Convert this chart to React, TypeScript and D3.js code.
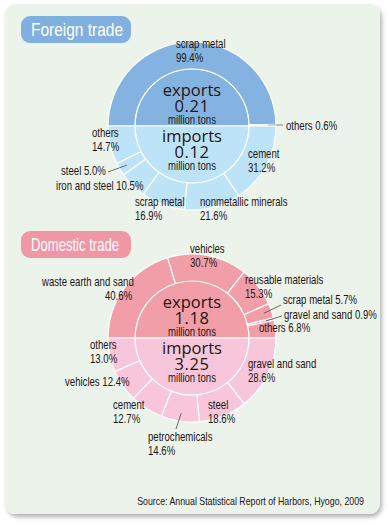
import { useMemo } from 'react'
import * as d3 from 'd3'

// ---- data ----
const foreignExportNames = ['scrap metal', 'others']
const foreignExportShares = [99.4, 0.6]
const foreignImportNames = ['cement', 'nonmetallic minerals', 'scrap metal', 'iron and steel', 'steel', 'others']
const foreignImportShares = [31.2, 21.6, 16.9, 10.5, 5.0, 14.7]
const foreignTotals = ['0.21', '0.12']

const domesticExportNames = ['waste earth and sand', 'vehicles', 'reusable materials', 'scrap metal', 'gravel and sand', 'others']
const domesticExportShares = [40.6, 30.7, 15.3, 5.7, 0.9, 6.8]
const domesticImportNames = ['gravel and sand', 'steel', 'petrochemicals', 'cement', 'vehicles', 'others']
const domesticImportShares = [28.6, 18.6, 14.6, 12.7, 12.4, 13.0]
const domesticTotals = ['1.18', '3.25']

const sourceNote = 'Source: Annual Statistical Report of Harbors, Hyogo, 2009'

// ---- label layout (text anchor points, not marks) ----
type Lbl = { x: number; y: number; inline?: boolean; pctX?: number; end?: [number, number]; light?: boolean }
const foreignExportLabels: Lbl[] = [
  { x: 176, y: 48 },
  { x: 286, y: 130, inline: true, end: [283, 125], light: true },
]
const foreignImportLabels: Lbl[] = [
  { x: 248, y: 158 },
  { x: 200, y: 206 },
  { x: 135, y: 206 },
  { x: 56, y: 190, inline: true },
  { x: 61, y: 175, inline: true, end: [108, 172] },
  { x: 92, y: 137 },
]
const domesticExportLabels: Lbl[] = [
  { x: 42, y: 286, pctX: 105 },
  { x: 190, y: 253 },
  { x: 245, y: 284 },
  { x: 283, y: 304, inline: true, end: [281, 305] },
  { x: 284, y: 319, inline: true, end: [282, 316] },
  { x: 259, y: 332, inline: true },
]
const domesticImportLabels: Lbl[] = [
  { x: 248, y: 368 },
  { x: 208, y: 409 },
  { x: 148, y: 441, end: [176, 429] },
  { x: 113, y: 409 },
  { x: 65, y: 386, inline: true },
  { x: 90, y: 349 },
]

const W = 388
const H = 527
const R_OUT = 84
const R_IN = 57
const SX = 0.8
const labelFont = '"Liberation Sans", Arial, sans-serif'
const centerFont = '"Open Sans", "Liberation Sans", sans-serif'
const ink = '#1e1512'

// narrow-looking text: regular sans squeezed horizontally
function NText({ x, y, size, children, anchor = 'start', fill = ink }: {
  x: number; y: number; size: number; children: string; anchor?: string; fill?: string
}) {
  return (
    <text
      transform={`translate(${x},${y}) scale(${SX},1)`}
      fontFamily={labelFont}
      fontSize={size}
      textAnchor={anchor}
      fill={fill}
    >
      {children}
    </text>
  )
}

interface HalfProps {
  names: string[]
  shares: number[]
  labels: Lbl[]
  start: number
  fill: string
  cx: number
  cy: number
}

function HalfRing({ names, shares, labels, start, fill, cx, cy }: HalfProps) {
  const arcs = useMemo(() => {
    const pie = d3.pie<number>().sort(null).value(d => d).startAngle(start).endAngle(start + Math.PI)
    return pie(shares)
  }, [shares, start])
  const ring = d3.arc<d3.PieArcDatum<number>>().innerRadius(R_IN).outerRadius(R_OUT)
  const core = d3.arc<any>().innerRadius(0).outerRadius(R_IN)
  const mid = d3.arc<d3.PieArcDatum<number>>().innerRadius(76).outerRadius(76)
  return (
    <g transform={`translate(${cx},${cy})`}>
      <path d={core({ startAngle: start, endAngle: start + Math.PI }) || ''} fill={fill} stroke="#fff" strokeWidth={1.2} />
      {arcs.map((a, i) => (
        <path key={i} d={ring(a) || ''} fill={fill} stroke="#fff" strokeWidth={1.2} />
      ))}
      {arcs.map((a, i) => {
        const l = labels[i]
        const pct = `${shares[i].toFixed(1)}%`
        const [mx, my] = mid.centroid(a)
        const lx = l.x - cx
        const ly = l.y - cy
        return (
          <g key={'l' + i}>
            {l.end && (
              <line
                x1={mx}
                y1={my}
                x2={l.end[0] - cx}
                y2={l.end[1] - cy}
                stroke={l.light ? '#a8a8a8' : '#4a4a4a'}
                strokeWidth={l.light ? 1.6 : 0.8}
              />
            )}
            {l.inline ? (
              <NText x={lx} y={ly} size={12}>{`${names[i]} ${pct}`}</NText>
            ) : (
              <>
                <NText x={lx} y={ly} size={12}>{names[i]}</NText>
                <NText x={l.pctX !== undefined ? l.pctX - cx : lx} y={ly + 14} size={12}>{pct}</NText>
              </>
            )}
          </g>
        )
      })}
    </g>
  )
}

function Block({
  title, titleFill, titleY, titleW, cx, cy, exp, imp, totals, expFill, impFill,
}: {
  title: string; titleFill: string; titleY: number; titleW: number; cx: number; cy: number
  exp: { names: string[]; shares: number[]; labels: Lbl[] }
  imp: { names: string[]; shares: number[]; labels: Lbl[] }
  totals: string[]; expFill: string; impFill: string
}) {
  return (
    <g>
      <rect x={21} y={titleY} width={110} height={27} rx={9} fill={titleFill} />
      <text
        x={31}
        y={titleY + 20}
        fontFamily={labelFont}
        fontSize={19}
        fill="#fff"
        textLength={titleW}
        lengthAdjust="spacingAndGlyphs"
      >
        {title}
      </text>
      <HalfRing {...exp} start={-Math.PI / 2} fill={expFill} cx={cx} cy={cy} />
      <HalfRing {...imp} start={Math.PI / 2} fill={impFill} cx={cx} cy={cy} />
      <g textAnchor="middle" fill={ink} fontFamily={centerFont} fontSize={16.5}>
        <text x={cx} y={cy - 30}>exports</text>
        <text x={cx} y={cy - 14} letterSpacing={0.6}>{totals[0]}</text>
        <text x={cx} y={cy + 16}>imports</text>
        <text x={cx} y={cy + 32} letterSpacing={0.6}>{totals[1]}</text>
      </g>
      <NText x={cx} y={cy - 2} size={12} anchor="middle">million tons</NText>
      <NText x={cx} y={cy + 44} size={12} anchor="middle">million tons</NText>
    </g>
  )
}

export default function App() {
  return (
    <svg width={W} height={H} style={{ position: 'absolute', left: 0, top: 0, display: 'block' }}>
      <defs>
        <filter id="shadow" x="-5%" y="-5%" width="110%" height="110%">
          <feDropShadow dx={2} dy={3} stdDeviation={2} floodColor="#000" floodOpacity={0.3} />
        </filter>
      </defs>
      <rect width={W} height={H} fill="#fff" />
      <rect x={5} y={4} width={375} height={510} rx={11} fill="#ebf3eb" filter="url(#shadow)" />
      <Block
        title="Foreign trade"
        titleFill="#7fb0e0"
        titleY={16}
        titleW={92}
        cx={192}
        cy={126}
        exp={{ names: foreignExportNames, shares: foreignExportShares, labels: foreignExportLabels }}
        imp={{ names: foreignImportNames, shares: foreignImportShares, labels: foreignImportLabels }}
        totals={foreignTotals}
        expFill="#85b3e1"
        impFill="#bde3f8"
      />
      <Block
        title="Domestic trade"
        titleFill="#ef97a5"
        titleY={231}
        titleW={88}
        cx={192}
        cy={338}
        exp={{ names: domesticExportNames, shares: domesticExportShares, labels: domesticExportLabels }}
        imp={{ names: domesticImportNames, shares: domesticImportShares, labels: domesticImportLabels }}
        totals={domesticTotals}
        expFill="#f29ea9"
        impFill="#f7c6db"
      />
      <NText x={364} y={505} size={11} anchor="end">{sourceNote}</NText>
    </svg>
  )
}
